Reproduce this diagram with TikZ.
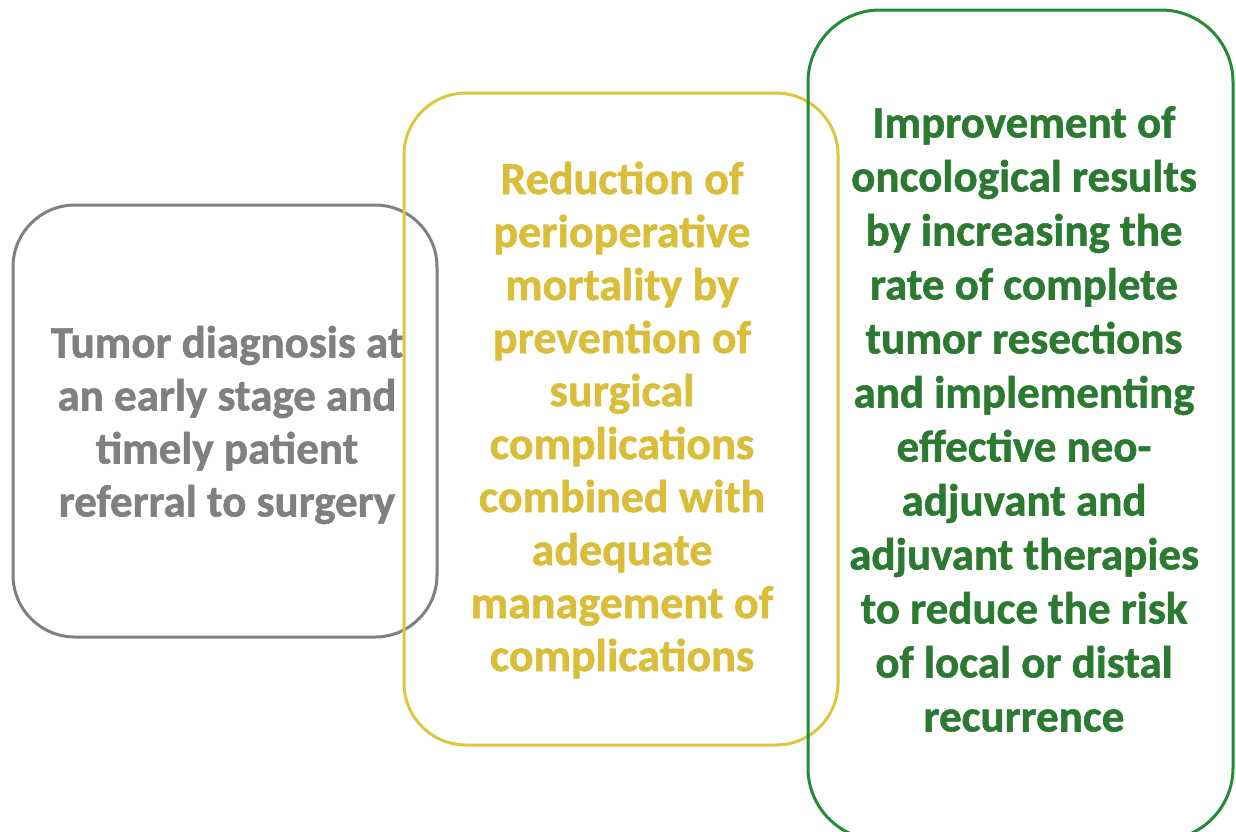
\documentclass[tikz,border=0pt]{standalone}
\usepackage{fontspec}
\setmainfont{Carlito}[BoldFeatures={FakeBold=1.2}]
\definecolor{cgray}{RGB}{128,128,128}
\definecolor{cyellow}{RGB}{222,198,62}
\definecolor{tyellow}{RGB}{218,190,58}
\definecolor{cgreen}{RGB}{36,140,52}
\definecolor{tgreen}{RGB}{44,122,50}
\tikzset{
  box/.style={draw=#1, line width=3pt, rounded corners=62pt},
  txt/.style={text=#1, align=center, inner sep=0pt}
}
\begin{document}
\begin{tikzpicture}[x=1pt,y=-1pt]
\useasboundingbox (0,0) rectangle (1236,831);
\clip (0,0) rectangle (1236,831);
\fill[white] (0,0) rectangle (1236,831);
% gray
\draw[box=cgray] (13,205) rectangle (437,637);
\node[txt=cgray, font=\bfseries\fontsize{45}{53}\selectfont] (t1) at (227,425) {Tumor diagnosis at\\an early stage and\\timely patient\\referral to surgery};
% yellow
\draw[box=cyellow] (404,93) rectangle (838,745);
\node[txt=tyellow, font=\bfseries\fontsize{46}{53}\selectfont] (t2) at (622,420) {Reduction of\\perioperative\\mortality by\\prevention of\\surgical\\complications\\combined with\\adequate\\management of\\complications};
% green
\draw[box=cgreen, rounded corners=72pt] (808,10) rectangle (1233,840);
\node[txt=tgreen, font=\bfseries\fontsize{45}{54}\selectfont] (t3) at (1024,419) {Improvement of\\oncological results\\by increasing the\\rate of complete\\tumor resections\\and implementing\\effective neo-\\adjuvant and\\adjuvant therapies\\to reduce the risk\\of local or distal\\recurrence};
\end{tikzpicture}
\end{document}
